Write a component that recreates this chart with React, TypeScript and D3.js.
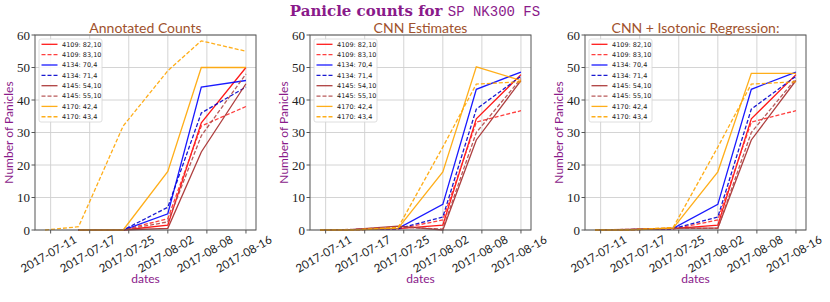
import React, { useRef, useEffect } from "react";
import * as d3 from "d3";

// sampling dates (also used as the x tick labels)
const dates = ["2017-07-11", "2017-07-17", "2017-07-25", "2017-08-02", "2017-08-08", "2017-08-16"];

const seriesLabels = [
  "4109: 82,10",
  "4109: 83,10",
  "4134: 70,4",
  "4134: 71,4",
  "4145: 54,10",
  "4145: 55,10",
  "4170: 42,4",
  "4170: 43,4",
];
const seriesColors = ["#ff0000", "#ff2a2a", "#0000ff", "#0000cc", "#a52a2a", "#b04848", "#ffa500", "#ffa500"];
const seriesDashed = [false, true, false, true, false, true, false, true];

const panelTitles = ["Annotated Counts", "CNN Estimates", "CNN + Isotonic Regression:"];
const yTicks = [0, 10, 20, 30, 40, 50, 60];

type V = number | null;

const annotated: V[][] = [
  [null, 0, 0, 1.5, 33, 50],
  [null, 0, 0, 3.5, 32, 38],
  [null, 0, 0, 5, 44, 46],
  [null, 0, 0, 7, 36, 44],
  [null, 0, 0, 0.5, 24, 45],
  [null, 0, 0, 2.5, 29, 48],
  [null, 0, 0, 18, 50, 50],
  [0, 1, 32, 49, 58.2, 55],
];

const cnn: V[][] = [
  [0, 0.1, 0.4, 1.5, 34.2, 47.8],
  [0, 0.1, 0.3, 3.1, 33.2, 36.7],
  [0, 0.1, 0.5, 7.9, 43.3, 48.6],
  [0, 0.1, 0.4, 4.0, 37.2, 47.3],
  [0, 0.2, 1.2, 0, 27.7, 46.0],
  [0, 0.2, 0.9, 0.3, 30.0, 46.6],
  [0, 0, 0.6, 17.9, 50.2, 46.0],
  [0, 0, 0.8, 25.5, 44.9, 45.6],
];

const isotonic: V[][] = [
  [0, 0.1, 0.4, 1.5, 34.2, 47.8],
  [0, 0.1, 0.3, 3.1, 33.2, 36.7],
  [0, 0.1, 0.5, 7.9, 43.3, 48.6],
  [0, 0.1, 0.4, 4.0, 37.2, 47.3],
  [0, 0.2, 0.6, 0.6, 27.7, 46.0],
  [0, 0.2, 0.5, 0.5, 30.0, 46.6],
  [0, 0, 0.6, 17.9, 48.2, 48.2],
  [0, 0, 0.8, 25.5, 44.9, 45.6],
];

const panelData = [annotated, cnn, isotonic];

const WIDTH = 830;
const HEIGHT = 302;
const PURPLE = "#8a1a8a";
const SIENNA = "#a0522d";
const SANS = "Lato, 'DejaVu Sans', sans-serif";
const SERIF = "'Liberation Serif', 'DejaVu Serif', serif";

const App: React.FC = () => {
  const svgRef = useRef<SVGSVGElement | null>(null);

  useEffect(() => {
    const root = d3.select(svgRef.current);
    root.selectAll("*").remove();

    const panelLefts = [35, 310, 585];
    const panelTop = 35;
    const pw = 221;
    const ph = 195;

    const parse = d3.timeParse("%Y-%m-%d");
    const times = dates.map((d) => parse(d) as Date);
    const t0 = times[0].getTime();
    const t1 = times[times.length - 1].getTime();
    const pad = (t1 - t0) * 0.05;

    const x = d3.scaleTime().domain([new Date(t0 - pad), new Date(t1 + pad)]).range([0, pw]);
    const y = d3.scaleLinear().domain([0, 60]).range([ph, 0]);
    // weekly gridlines, labelled with the sample dates
    const xTicks = x.ticks(d3.timeWednesday.every(1) as d3.TimeInterval);

    // main title
    const title = root
      .append("text")
      .attr("x", WIDTH / 2)
      .attr("y", 16)
      .attr("text-anchor", "middle")
      .attr("fill", PURPLE);
    title
      .append("tspan")
      .style("font-family", "'DejaVu Serif', serif")
      .style("font-weight", "bold")
      .style("font-size", "15px")
      .text("Panicle counts for ");
    title
      .append("tspan")
      .style("font-family", "'Liberation Mono', 'DejaVu Sans Mono', monospace")
      .style("font-size", "14px")
      .text("SP NK300 FS");

    panelData.forEach((series, p) => {
      const g = root.append("g").attr("transform", `translate(${panelLefts[p]},${panelTop})`);

      // grid
      g.selectAll(".gx")
        .data(xTicks)
        .join("line")
        .attr("x1", (d) => x(d))
        .attr("x2", (d) => x(d))
        .attr("y1", 0)
        .attr("y2", ph)
        .attr("stroke", "#cfcfcf")
        .attr("stroke-width", 0.9);
      g.selectAll(".gy")
        .data(yTicks)
        .join("line")
        .attr("x1", 0)
        .attr("x2", pw)
        .attr("y1", (d) => y(d))
        .attr("y2", (d) => y(d))
        .attr("stroke", "#cfcfcf")
        .attr("stroke-width", 0.9);

      // lines
      const line = d3
        .line<V>()
        .defined((d) => d !== null)
        .x((_, i) => x(times[i]))
        .y((d) => y(d as number));

      series.forEach((vals, s) => {
        g.append("path")
          .attr("d", line(vals) || "")
          .attr("fill", "none")
          .attr("stroke", seriesColors[s])
          .attr("stroke-opacity", 0.9)
          .attr("stroke-width", 1.3)
          .attr("stroke-dasharray", seriesDashed[s] ? "4,2" : null);
      });

      // frame
      g.append("rect")
        .attr("width", pw)
        .attr("height", ph)
        .attr("fill", "none")
        .attr("stroke", "#555")
        .attr("stroke-width", 1);

      // y axis ticks and labels
      const ya = g.append("g");
      yTicks.forEach((t) => {
        ya.append("line")
          .attr("x1", -3.5)
          .attr("x2", 0)
          .attr("y1", y(t))
          .attr("y2", y(t))
          .attr("stroke", "#555");
        ya.append("text")
          .attr("x", -5)
          .attr("y", y(t))
          .attr("dy", "0.35em")
          .attr("text-anchor", "end")
          .style("font-family", SERIF)
          .style("font-size", "13px")
          .attr("fill", "#222")
          .text(t);
      });

      // x axis ticks and labels
      xTicks.forEach((t, i) => {
        g.append("line")
          .attr("x1", x(t))
          .attr("x2", x(t))
          .attr("y1", ph)
          .attr("y2", ph + 3.5)
          .attr("stroke", "#555");
        g.append("text")
          .attr("transform", `translate(${x(t) - 2},${ph + 24}) rotate(-30)`)
          .attr("text-anchor", "middle")
          .attr("dy", "0.35em")
          .style("font-family", SANS)
          .style("font-size", "11.5px")
          .attr("fill", "#222")
          .text(dates[i] ?? "");
      });

      // subtitle and axis labels
      g.append("text")
        .attr("x", pw / 2)
        .attr("y", -2.5)
        .attr("text-anchor", "middle")
        .style("font-family", SANS)
        .style("font-size", "14px")
        .attr("fill", SIENNA)
        .text(panelTitles[p]);
      g.append("text")
        .attr("x", pw / 2)
        .attr("y", ph + 53)
        .attr("text-anchor", "middle")
        .style("font-family", SANS)
        .style("font-size", "12px")
        .attr("fill", PURPLE)
        .text("dates");
      g.append("text")
        .attr("transform", `translate(-22,${ph / 2}) rotate(-90)`)
        .attr("text-anchor", "middle")
        .style("font-family", SANS)
        .style("font-size", "12px")
        .attr("fill", PURPLE)
        .text("Number of Panicles");

      // legend
      const lg = g.append("g").attr("transform", "translate(4,4)");
      lg.append("rect")
        .attr("width", 63)
        .attr("height", 83)
        .attr("rx", 2)
        .attr("fill", "white")
        .attr("fill-opacity", 0.85)
        .attr("stroke", "#d5d5d5")
        .attr("stroke-width", 0.8);
      seriesLabels.forEach((lab, s) => {
        const cy = 5.3 + s * 10.35;
        lg.append("line")
          .attr("x1", 2.5)
          .attr("x2", 18.5)
          .attr("y1", cy)
          .attr("y2", cy)
          .attr("stroke", seriesColors[s])
          .attr("stroke-opacity", 0.9)
          .attr("stroke-width", 1.3)
          .attr("stroke-dasharray", seriesDashed[s] ? "4,2" : null);
        lg.append("text")
          .attr("x", 23)
          .attr("y", cy)
          .attr("dy", "0.35em")
          .style("font-family", "'DejaVu Sans', sans-serif")
          .style("font-size", "6.5px")
          .attr("fill", "#222")
          .text(lab);
      });
    });
  }, []);

  return (
    <svg
      ref={svgRef}
      width={WIDTH}
      height={HEIGHT}
      style={{ position: "absolute", left: 0, top: 0, background: "white" }}
    ></svg>
  );
};

export default App;
